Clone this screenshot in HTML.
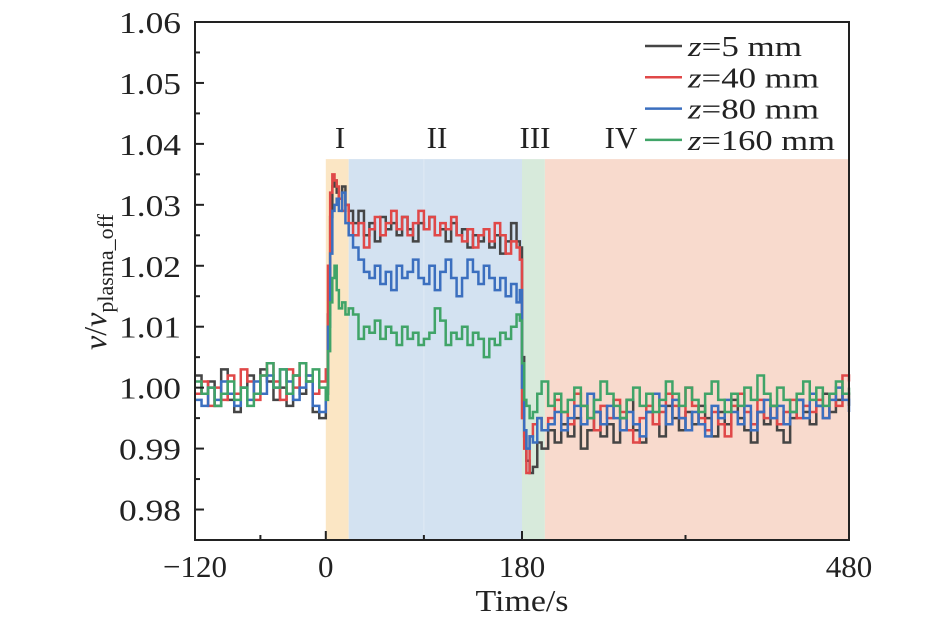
<!DOCTYPE html>
<html><head><meta charset="utf-8"><style>
html,body{margin:0;padding:0;background:#fff;}
svg{display:block;font-family:"Liberation Serif",serif;}
</style></head><body>
<svg id="chart" width="945" height="624" viewBox="0 0 945 624" xmlns="http://www.w3.org/2000/svg"></svg>
<script>
const times = [-120,-114,-108,-102,-96,-90,-84,-78,-72,-66,-60,-54,-48,-42,-36,-30,-24,-18,-12,-6,
0,2,4,6,8,10,12,15,18,21,
25,30,35,40,45,50,55,60,65,70,75,80,85,90,95,100,105,110,115,120,125,130,135,140,145,150,155,160,165,170,175,
178,180,182,184,187,190,194,198,
204,210,216,222,228,234,240,246,252,258,264,270,276,282,288,294,300,306,312,318,324,330,336,342,348,354,360,366,372,378,384,390,396,402,408,414,420,426,432,438,444,450,456,462,468,474,480];
const z5 = [1.002,0.999,1.001,0.997,1.003,0.998,0.996,1.000,1.002,0.999,1.003,1.001,0.998,1.000,0.997,1.002,0.999,1.001,0.996,0.995,
0.999,1.012,1.028,1.033,1.034,1.032,1.031,1.033,1.030,1.029,
1.027,1.029,1.025,1.027,1.024,1.028,1.026,1.027,1.025,1.028,1.026,1.024,1.027,1.026,1.028,1.025,1.026,1.024,1.027,1.025,1.026,1.023,1.025,1.024,1.026,1.023,1.025,1.022,1.024,1.027,1.024,
1.023,1.005,0.992,0.988,0.986,0.987,0.991,0.990,
0.993,0.991,0.994,0.992,0.995,0.990,0.993,0.996,0.992,0.994,0.991,0.995,0.998,0.993,0.991,0.996,0.994,0.992,0.997,0.995,0.993,0.996,0.994,0.997,0.995,0.992,0.996,0.994,0.998,0.995,0.993,0.991,0.996,0.994,0.997,0.993,0.991,0.995,0.998,0.996,0.994,0.997,0.999,0.996,0.998,0.999,0.997];
const z40 = [0.999,1.001,0.997,1.000,0.998,1.002,0.999,1.003,1.001,0.998,1.002,1.004,1.001,0.998,1.003,1.000,1.004,1.002,0.999,1.001,
1.003,1.020,1.032,1.035,1.034,1.033,1.031,1.029,1.030,1.027,
1.025,1.027,1.023,1.026,1.028,1.025,1.027,1.029,1.026,1.028,1.025,1.027,1.029,1.026,1.028,1.025,1.027,1.026,1.028,1.025,1.024,1.026,1.023,1.025,1.026,1.024,1.027,1.025,1.022,1.024,1.023,
1.021,0.995,0.990,0.986,0.992,0.994,0.995,0.993,
0.995,0.998,0.996,0.994,0.999,0.997,0.995,0.993,0.997,0.995,0.998,0.996,0.993,0.991,0.995,0.997,0.994,0.996,0.999,0.997,0.995,1.000,0.997,0.995,0.993,0.996,0.994,0.992,0.997,0.999,0.996,0.994,0.998,0.995,0.997,0.994,0.996,0.998,0.995,0.997,0.996,0.998,0.995,0.999,0.997,1.002,1.001];
const z80 = [0.998,0.997,1.000,0.998,1.001,0.999,0.997,1.000,0.998,1.001,0.999,1.002,1.000,1.003,1.001,0.998,1.000,1.002,0.997,0.996,
1.000,1.010,1.022,1.029,1.030,1.031,1.029,1.032,1.027,1.025,
1.023,1.021,1.019,1.018,1.020,1.017,1.019,1.016,1.020,1.018,1.019,1.021,1.018,1.017,1.020,1.016,1.019,1.021,1.018,1.015,1.018,1.021,1.019,1.017,1.020,1.018,1.016,1.018,1.015,1.017,1.014,
1.016,1.000,0.993,0.990,0.992,0.991,0.995,0.993,
0.994,0.996,0.993,0.995,0.997,0.994,0.999,0.996,0.994,0.997,0.995,0.993,0.996,0.994,0.992,0.996,0.999,0.997,0.994,0.998,0.995,0.993,0.996,0.994,0.992,0.997,0.995,0.998,0.996,0.994,0.997,0.993,0.996,0.998,0.995,0.997,0.994,0.996,0.998,0.995,0.999,0.997,0.995,0.998,1.000,0.998,0.996];
const z160 = [1.001,0.999,1.000,0.997,0.999,1.001,0.998,1.000,0.997,0.999,1.002,1.004,1.000,1.003,0.999,1.002,1.004,1.001,1.003,1.000,
0.998,1.006,1.014,1.018,1.020,1.016,1.013,1.014,1.012,1.013,
1.012,1.008,1.010,1.009,1.011,1.008,1.010,1.009,1.007,1.010,1.008,1.009,1.007,1.008,1.009,1.013,1.011,1.007,1.009,1.008,1.010,1.007,1.009,1.008,1.005,1.008,1.007,1.009,1.008,1.010,1.012,
1.011,1.004,0.998,0.997,0.995,0.996,0.999,1.001,
0.997,0.999,0.996,0.998,1.000,0.997,0.995,0.998,1.001,0.999,0.997,0.995,0.998,1.000,0.997,0.999,0.996,0.998,1.001,0.999,0.997,1.000,0.998,0.996,0.999,1.001,0.998,0.996,0.999,0.997,1.000,0.998,1.002,0.999,0.997,1.000,0.998,0.996,0.999,1.001,0.998,1.000,0.997,0.999,1.001,0.999,1.000];
const seriesLabels = ["5","40","80","160"];
const phaseStarts = [0,21,180,201];
const phaseEnds = [21,180,201,480];
const phaseLabels = ["I","II","III","IV"];
const xTickLabels = [-120,0,180,480];
const xMinorTicks = [-60,90,330];
const yTickLabels = [0.98,0.99,1.00,1.01,1.02,1.03,1.04,1.05,1.06];

const L=195,R=849,T=22,B=540;
const X0=-120,X1=480,Y0=0.975,Y1=1.06;
const xs=v=>L+(v-X0)/(X1-X0)*(R-L);
const ys=v=>B-(v-Y0)/(Y1-Y0)*(B-T);
const NS="http://www.w3.org/2000/svg";
const svg=document.getElementById('chart');
function mk(tag,attrs,parent){const e=document.createElementNS(NS,tag);for(const k in attrs)e.setAttribute(k,attrs[k]);(parent||svg).appendChild(e);return e;}

// phase shading
const phaseColors=["#fbe6c4","#d3e2f1","#d7eadb","#f8dacd"];
const phaseLabelX=[340,437,535,621];
const shadeTop=ys(1.0375);
phaseStarts.forEach((s,i)=>{
  const r=mk('rect',{x:xs(s),y:shadeTop,width:xs(phaseEnds[i])-xs(s),height:B-shadeTop,fill:phaseColors[i]});
  
  
  const t=mk('text',{x:phaseLabelX[i],y:shadeTop-11,'font-size':31,'text-anchor':'middle',fill:'#222'});
  t.textContent=phaseLabels[i];
  
  
});
mk('line',{x1:xs(90),x2:xs(90),y1:shadeTop,y2:B,stroke:'#e0eaf4','stroke-width':1});

// series
const colors=["#454545","#e04848","#3b6fbf","#40a468"];
[z5,z40,z80,z160].forEach((vals,si)=>{
  let d='';
  vals.forEach((v,i)=>{
    const x=xs(times[i]),y=ys(v);
    if(i==0)d+='M'+x+','+y;else d+='H'+x+'V'+y;
  });
  const p=mk('path',{d:d,fill:'none',stroke:colors[si],'stroke-width':2.5,'stroke-linejoin':'miter'});
  
  
});

// axes frame
const fr=mk('rect',{x:L,y:T,width:R-L,height:B-T,fill:'none',stroke:'#222','stroke-width':2});



// y ticks
yTickLabels.forEach(v=>{
  const y=ys(v);
  mk('line',{x1:L,x2:L+9,y1:y,y2:y,stroke:'#222','stroke-width':2});
  const t=mk('text',{x:L-14,y:y+11,'font-size':31,'text-anchor':'end',fill:'#222',textLength:62,lengthAdjust:'spacingAndGlyphs'});
  t.textContent=v.toFixed(2);
  
  
  const m=v+0.005;
  if(m<Y1-1e-9) mk('line',{x1:L,x2:L+5,y1:ys(m),y2:ys(m),stroke:'#222','stroke-width':2});
});
// x ticks
xTickLabels.forEach(v=>{
  const x=xs(v);
  mk('line',{x1:x,x2:x,y1:B,y2:B-9,stroke:'#222','stroke-width':2});
  const t=mk('text',{x:x,y:B+37,'font-size':31,'text-anchor':'middle',fill:'#222'});
  t.textContent=v<0?'\u2212'+(-v):String(v);
  
  
});
xMinorTicks.forEach(v=>{mk('line',{x1:xs(v),x2:xs(v),y1:B,y2:B-5,stroke:'#222','stroke-width':2});});

// axis titles
const xt=mk('text',{x:522,y:611,'font-size':31,'text-anchor':'middle',fill:'#222',textLength:93,lengthAdjust:'spacingAndGlyphs'});
xt.textContent='Time/s';


const yt=mk('text',{transform:'translate(106,282) rotate(-90)','font-size':32,'text-anchor':'middle',fill:'#222'});
yt.innerHTML='<tspan font-style="italic">v</tspan>/<tspan font-style="italic">v</tspan><tspan font-size="22" dy="7">plasma_off</tspan>';



// legend
const legendWidths=[114,131,131,147];
seriesLabels.forEach((s,i)=>{
  const y=46+i*31.3;
  const g=mk('g',{});
  
  
  mk('line',{x1:645,x2:682,y1:y,y2:y,stroke:colors[i],'stroke-width':2.5},g);
  const t=mk('text',{x:688,y:y+10,'font-size':29,fill:'#222',textLength:legendWidths[i],lengthAdjust:'spacingAndGlyphs'},g);
  t.innerHTML='<tspan font-style="italic">z</tspan>='+s+' mm';
});
</script>
</body></html>
